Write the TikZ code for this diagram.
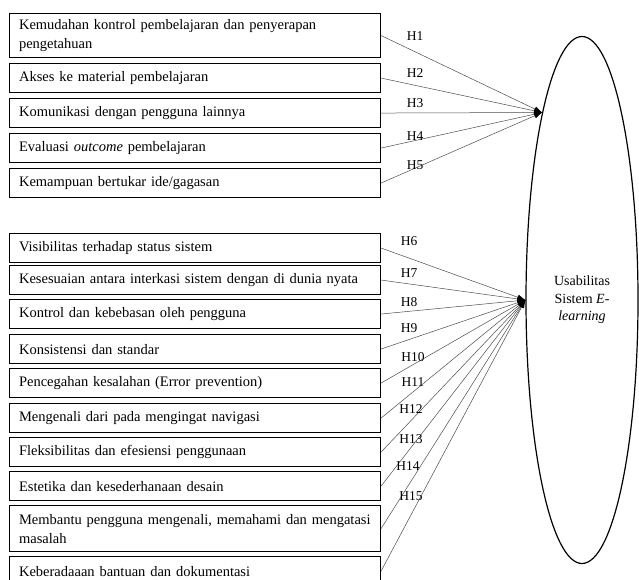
\documentclass[tikz,border=0pt]{standalone}
\usepackage{fontspec}
\setmainfont{Liberation Serif}
\usetikzlibrary{shapes.geometric,arrows.meta}
\begin{document}
\begin{tikzpicture}[x=1pt,y=-1pt,
  box/.style={draw, line width=1.1pt, anchor=north west, text width=352pt,
    inner xsep=9.5pt, inner ysep=0pt, align=left, minimum height=29pt,
    font=\fontsize{14.5}{19}\selectfont},
  link/.style={draw=black!70, line width=0.5pt,
    -{Latex[length=8pt,width=5.5pt,color=black]}},
  hlab/.style={font=\fontsize{13.5}{16}\selectfont, inner sep=0pt}]
\useasboundingbox (0,0) rectangle (639,580);

\node[ellipse, draw, line width=1.2pt, minimum width=112pt, minimum height=527pt,
  inner sep=0pt, align=center, font=\fontsize{14}{17.5}\selectfont]
  (E) at (582,300) {Usabilitas\\Sistem \textit{E-}\\\textit{learning}};

\node[box, minimum height=44pt] (b1) at (9,13) {Kemudahan kontrol pembelajaran dan penyerapan\\pengetahuan};
\node[box] (b2) at (9,63) {Akses ke material pembelajaran};
\node[box] (b3) at (9,98) {Komunikasi dengan pengguna lainnya};
\node[box] (b4) at (9,133) {Evaluasi \textit{outcome} pembelajaran};
\node[box] (b5) at (9,168) {Kemampuan bertukar ide/gagasan};

\node[box] (b6) at (9,233) {Visibilitas terhadap status sistem};
\node[box] (b7) at (9,265) {\mbox{Kesesuaian antara interkasi sistem dengan di dunia nyata}};
\node[box] (b8) at (9,299) {Kontrol dan kebebasan oleh pengguna};
\node[box] (b9) at (9,334) {Konsistensi dan standar};
\node[box] (b10) at (9,368) {Pencegahan kesalahan (Error prevention)};
\node[box] (b11) at (9,403) {Mengenali dari pada mengingat navigasi};
\node[box] (b12) at (9,437) {Fleksibilitas dan efesiensi penggunaan};
\node[box] (b13) at (9,471) {Estetika dan kesederhanaan desain};
\node[box, minimum height=46pt] (b14) at (9,505) {\mbox{Membantu pengguna mengenali, memahami dan mengatasi}\\masalah};
\node[box] (b15) at (9,556) {Keberadaaan bantuan dan dokumentasi};

\foreach \i in {1,...,5} \draw[link] (b\i.east) -- (E.102);
\foreach \i in {6,...,15} \draw[link] (b\i.east) -- (E.west);

\node[hlab] (h1) at (415,36) {H1};
\node[hlab] (h2) at (415,73) {H2};
\node[hlab] (h3) at (415,103) {H3};
\node[hlab] (h4) at (415,136) {H4};
\node[hlab] (h5) at (415,165) {H5};
\node[hlab] (h6) at (409,241) {H6};
\node[hlab] (h7) at (409,273) {H7};
\node[hlab] (h8) at (409,302) {H8};
\node[hlab] (h9) at (409,328) {H9};
\node[hlab] (h10) at (413,357) {H10};
\node[hlab] (h11) at (413,382) {H11};
\node[hlab] (h12) at (411,409) {H12};
\node[hlab] (h13) at (411,439) {H13};
\node[hlab] (h14) at (408,466) {H14};
\node[hlab] (h15) at (411,496) {H15};
\end{tikzpicture}
\end{document}
